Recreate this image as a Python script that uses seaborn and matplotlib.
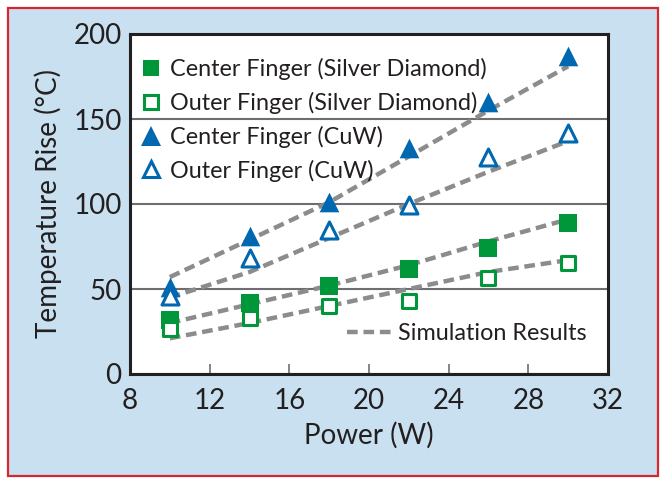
import numpy as np
import pandas as pd
import matplotlib
matplotlib.use("Agg")
import matplotlib.pyplot as plt
from matplotlib.lines import Line2D
from matplotlib.patches import Rectangle
import seaborn as sns

# measured data
power = [10, 14, 18, 22, 26, 30]
center_sd = [32, 42, 51.5, 62, 74, 89]
outer_sd = [26.5, 33, 40, 43, 56.5, 65.5]
center_cuw = [51, 81, 101, 133, 160, 187]
outer_cuw = [46, 68, 84.5, 99.5, 127.5, 141.5]

# simulation results
sim_center_sd = [30, 41, 52, 64, 78, 91]
sim_outer_sd = [21, 30, 40, 50, 60, 67]
sim_center_cuw = [57, 79, 101, 128, 155, 181]
sim_outer_cuw = [45, 60, 80, 100, 119, 137]

labels = ["Center Finger (Silver Diamond)", "Outer Finger (Silver Diamond)",
          "Center Finger (CuW)", "Outer Finger (CuW)"]

green = "#00973a"
blue = "#0067b1"
dark = "#231f20"

sns.set_theme(style="white")
plt.rcParams["font.family"] = ["Lato", "DejaVu Sans"]

fig = plt.figure(figsize=(6.66, 4.84), dpi=100)
fig.patch.set_facecolor("white")
fig.patches.append(Rectangle((8 / 666, 8 / 484), 650 / 666, 468 / 484,
                             transform=fig.transFigure, facecolor="#c8e0ef",
                             edgecolor="#d7262e", lw=1.6, zorder=-1))
ax = fig.add_axes([130 / 666, (484 - 374) / 484, 478 / 666, 340 / 484])
ax.set_facecolor("white")

sim_df = pd.DataFrame({"power": power * 4,
                       "temp": sim_center_sd + sim_outer_sd + sim_center_cuw + sim_outer_cuw,
                       "series": np.repeat(labels, len(power))})
for name in labels:
    sub = sim_df[sim_df.series == name]
    sns.lineplot(data=sub, x="power", y="temp", ax=ax, color="#8c8c8c", lw=3.2,
                 dashes=False, zorder=3)
for line in ax.lines:
    line.set_dashes([2.4, 1.3])

series = [(center_sd, "s", green, True), (outer_sd, "s", green, False),
          (center_cuw, "^", blue, True), (outer_cuw, "^", blue, False)]
for vals, mk, col, filled in series:
    if mk == "s":
        size = 150 if filled else 105
    else:
        size = 200 if filled else 150
    sns.scatterplot(x=power, y=vals, ax=ax, marker=mk, s=size,
                    facecolor=col if filled else "white", edgecolor=col,
                    linewidth=0 if filled else 2.2, zorder=5)

ax.set_xlim(8, 32)
ax.set_ylim(0, 200)
ax.set_xticks(range(8, 33, 4))
ax.set_yticks(range(0, 201, 50))
ax.yaxis.grid(True, color="#6d6e71", lw=1.5)
ax.xaxis.grid(False)
ax.set_axisbelow(True)
for sp in ax.spines.values():
    sp.set_color(dark)
    sp.set_linewidth(2.2)
ax.tick_params(axis="x", direction="in", length=7, width=1.2, color="#6d6e71",
               labelsize=20, labelcolor=dark, pad=10, bottom=True)
ax.tick_params(axis="y", length=0, labelsize=20, labelcolor=dark, pad=6)
ax.set_xlabel("Power (W)", fontsize=20, color=dark, labelpad=6)
ax.set_ylabel("Temperature Rise (°C)", fontsize=20, color=dark, labelpad=8)

handles = []
for vals, mk, col, filled in series:
    if mk == "s":
        ms = 12 if filled else 10
    else:
        ms = 14 if filled else 12
    handles.append(Line2D([], [], ls="none", marker=mk, markersize=ms,
                          markerfacecolor=col if filled else "white",
                          markeredgecolor=col, markeredgewidth=0 if filled else 2.2))
leg1 = ax.legend(handles, labels, loc="upper left", bbox_to_anchor=(-0.005, 0.97),
                 frameon=False, fontsize=16.8, handlelength=0.8, handletextpad=0.4,
                 labelspacing=0.5, borderaxespad=0.2)
for t in leg1.get_texts():
    t.set_color(dark)
ax.add_artist(leg1)

sim_handle = Line2D([], [], color="#8c8c8c", lw=3.2, dashes=[2.4, 1.3])
leg2 = ax.legend([sim_handle], ["Simulation Results"], loc="lower right",
                 bbox_to_anchor=(1.0, 0.025), frameon=False, fontsize=16.8,
                 handlelength=1.9, handletextpad=0.3)
for t in leg2.get_texts():
    t.set_color(dark)

fig.savefig("out.png", dpi=100)
